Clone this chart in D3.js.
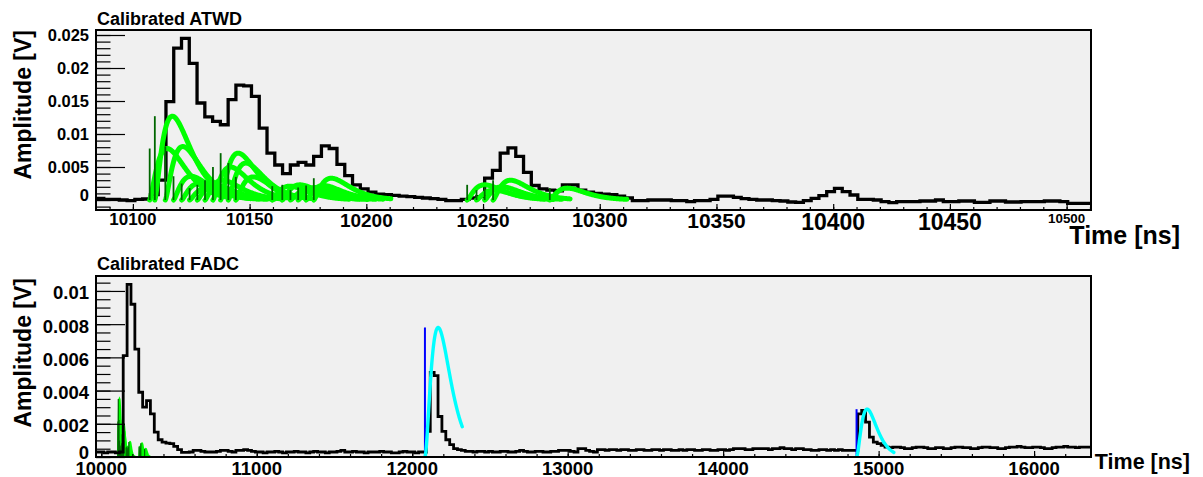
<!DOCTYPE html>
<html>
<head>
<meta charset="utf-8">
<script src="https://cdn.jsdelivr.net/npm/d3@7"></script>
<style>
body { margin: 0; background: #fff; }
svg { display: block; font-family: "Liberation Sans", Arial, Helvetica, sans-serif; font-weight: bold; }
</style>
</head>
<body>
<svg width="1203" height="477"></svg>
<script>
//------------------------------------------------------------------------------
// ATWD waveform: 128 samples of 3.33 ns
var atwdStart = 10084.2, atwdBin = 3.33;
var atwdValues = [
    0.00025, 0.0001, 0.0001, 0.0, -0.0001, 0.0001, 0.00015, 0.0008, 0.003, 0.0149,
    0.0230, 0.0245, 0.0207, 0.0147, 0.0126, 0.0119, 0.0114, 0.0152, 0.0174, 0.0173,
    0.0157, 0.0109, 0.0071, 0.0053, 0.0040, 0.0053, 0.0057, 0.0053, 0.0066, 0.0082,
    0.0078, 0.0054, 0.0037, 0.0023, 0.0017, 0.0012, 0.0009, 0.0008, 0.0007, 0.0006,
    0.0005, 0.0004, 0.0003, 0.0002, 0.0001, -0.0001, -0.0001, 0.0001, 0.0003, 0.0005,
    0.0033, 0.0045, 0.0071, 0.0079, 0.0066, 0.0042, 0.0022, 0.0017, 0.0015, 0.0014,
    0.0023, 0.0023, 0.0015, 0.0012, 0.0010, 0.0009, 0.0008, 0.0006, 0.0003, -0.0001,
    -0.0001, 0.0, 0.0, 0.0, -0.0001, -0.0001, -0.00025, -0.0001, -0.0001, 0.0001,
    0.0006, 0.0006, 0.0004, 0.0002, 0.0001, 0.0, 0.0, -0.0001, -0.00015, -0.0003,
    -0.00035, -0.0001, 0.00025, 0.00066, 0.00126, 0.00177, 0.00126, 0.00076, 0.0001, 0.0001,
    0.0, -0.00025, -0.0004, -0.00025, -0.00025, -0.00025, -0.00015, -0.00015, 0.0, -0.00025,
    -0.00025, -0.00015, -0.00015, -0.00035, -0.00035, -0.00015, -0.00015, -0.0003, -0.0003, -0.00025,
    -0.00025, -0.00025, -0.00015, -0.00015, -0.00025, -0.0005, -0.0005, -0.0005
];

// pulses unfolded from the ATWD (start time in ns, amplitude in V)
var atwdPulseTimes = [
    10107.2, 10109.4, 10113.9, 10117.4, 10120.9, 10124.3, 10127.6, 10130.9, 10134.3, 10137.6,
    10140.9, 10144.1, 10159.7, 10164.0, 10167.5, 10170.8, 10174.2, 10177.5,
    10243.2, 10247.2, 10250.7, 10254.3, 10278.6
];
var atwdPulseAmps = [
    0.0078, 0.0127, 0.0081, 0.0036, 0.0025, 0.0018, 0.0023, 0.0030, 0.0050, 0.0071,
    0.0056, 0.0035, 0.0021, 0.0023, 0.0015, 0.0019, 0.0022, 0.0033,
    0.0023, 0.0015, 0.0020, 0.0030, 0.0018
];

// FADC waveform: 256 samples of 25 ns
var fadcStart = 9966, fadcBin = 25;
var fadcValues = [
    0.0003, 0.0003, 0.00025, 0.0003, 0.0003, 0.00025, 0.0003,
    0.0061, 0.0104, 0.0092, 0.0065, 0.0039, 0.0030, 0.0034, 0.0026, 0.0015, 0.00104,
    0.0009, 0.00084, 0.0008, 0.00064, 0.00044, 0.00028,
    0.00028, 0.0003, 0.0004, 0.0004, 0.00034, 0.0003, 0.0003, 0.0003, 0.00034, 0.0004,
    0.0004, 0.00034, 0.0003, 0.0004, 0.0004, 0.00044, 0.0004, 0.00034, 0.0003, 0.0003,
    0.00025, 0.0003, 0.0003, 0.00034, 0.0003, 0.00025, 0.0003, 0.0003, 0.00034, 0.0003,
    0.0003, 0.00025, 0.0003, 0.00034, 0.0003, 0.0003, 0.00025, 0.0003, 0.0003, 0.00034,
    0.0004, 0.0003, 0.0003, 0.00034, 0.0003, 0.0003, 0.00025, 0.0003, 0.0003, 0.0003,
    0.00034, 0.0003, 0.0003, 0.00025, 0.00025, 0.0003, 0.00034, 0.0003, 0.0003, 0.00025, 0.0003, 0.0003,
    0.00154, 0.0051, 0.0049, 0.00244, 0.00154, 0.00104, 0.00074, 0.0005, 0.00044,
    0.0004, 0.00034, 0.00034, 0.0003, 0.00034, 0.00034, 0.0003, 0.00034, 0.0003, 0.0003,
    0.00034, 0.00034, 0.0003, 0.0003, 0.00034, 0.0004, 0.00034, 0.0003, 0.0003, 0.00034,
    0.00034, 0.0003, 0.0003, 0.00034, 0.00034, 0.0004, 0.0004, 0.0004, 0.00034, 0.0003,
    0.0005, 0.0005, 0.0004, 0.00034, 0.0003, 0.00044, 0.00044, 0.0004, 0.00044, 0.00044,
    0.0004, 0.00044, 0.00044, 0.0004, 0.0004, 0.00044, 0.00044, 0.0004, 0.0004, 0.00044,
    0.00044, 0.0004, 0.00044, 0.00044, 0.0004, 0.0004, 0.00044, 0.0004, 0.00044, 0.00044,
    0.0004, 0.0004, 0.00044, 0.00044, 0.0004, 0.0004, 0.00044, 0.00044, 0.0004, 0.00044,
    0.0005, 0.0005, 0.0005, 0.00044, 0.00044, 0.0005, 0.0005, 0.0005, 0.0005, 0.00044,
    0.0005, 0.0005, 0.00056, 0.0005, 0.0005, 0.00044, 0.0005, 0.0005, 0.00044, 0.00044,
    0.0004, 0.0004, 0.00044, 0.00044, 0.0004, 0.00044, 0.0004, 0.00044, 0.0004, 0.0004, 0.0004, 0.0004,
    0.0026, 0.0028, 0.0021, 0.0012, 0.0009, 0.0008, 0.0007,
    0.0006, 0.00056, 0.0006, 0.0006, 0.00056, 0.0005, 0.0005, 0.00056, 0.0006, 0.0006,
    0.00056, 0.0005, 0.0005, 0.00056, 0.00056, 0.0005, 0.0005, 0.00056, 0.0006, 0.0006,
    0.00056, 0.00056, 0.0005, 0.0005, 0.00056, 0.0006, 0.0006, 0.00056, 0.00056, 0.0005,
    0.0005, 0.00056, 0.0006, 0.0006, 0.00064, 0.0006, 0.00056, 0.00056, 0.0006, 0.0006,
    0.00056, 0.0005, 0.0005, 0.00056, 0.0006, 0.0006, 0.00064, 0.0006, 0.0006, 0.00056, 0.0006, 0.0006, 0.0006
];

// pulses unfolded from the FADC
var fadcPulseTimes = [12081.8, 14858];
var fadcPulseAmps = [0.0078, 0.00288];
var fadcPulseRise = [85, 68];

// ATWD pulses are also shown on the FADC panel, scaled down
var atwdOnFadcScale = 0.275;

// axis ticks and labels
var atwdXTicks = [10100, 10150, 10200, 10250, 10300, 10350, 10400, 10450, 10500];
var atwdXLabels = ["10100", "10150", "10200", "10250", "10300", "10350", "10400", "10450", "10500"];
var atwdYTicks = [0, 0.005, 0.01, 0.015, 0.02, 0.025];
var atwdYLabels = ["0", "0.005", "0.01", "0.015", "0.02", "0.025"];
var fadcXTicks = [10000, 11000, 12000, 13000, 14000, 15000, 16000];
var fadcXLabels = ["10000", "11000", "12000", "13000", "14000", "15000", "16000"];
var fadcYTicks = [0, 0.002, 0.004, 0.006, 0.008, 0.01];
var fadcYLabels = ["0", "0.002", "0.004", "0.006", "0.008", "0.01"];
//------------------------------------------------------------------------------

// the ATWD time labels come out in uneven sizes in the original
var atwdXLabelSize = [17, 17, 19, 19, 20, 21, 23, 23, 13.4];

var green = '#00ff00', darkGreen = '#006600', cyan = '#00ffff', blue = '#0000ff';
var frameFill = '#f0f0f0';

var svg = d3.select('svg');

var topBox = {left: 96, right: 1091, top: 30, bottom: 210};
var botBox = {left: 96, right: 1091, top: 276, bottom: 457};

var x1 = d3.scaleLinear()
    .domain([atwdStart, atwdStart + atwdValues.length * atwdBin])
    .range([topBox.left, topBox.right]);
var y1 = d3.scaleLinear()
    .domain([-0.001515, 0.025758])
    .range([topBox.bottom, topBox.top]);

var x2 = d3.scaleLinear()
    .domain([fadcStart, fadcStart + fadcValues.length * fadcBin])
    .range([botBox.left, botBox.right]);
var y2 = d3.scaleLinear()
    .domain([0, 0.0109])
    .range([botBox.bottom, botBox.top]);

//---------------------------------------------------------------------
// helpers

function pulseShape(dt, rise, power) {
    if (dt <= 0) return 0;
    var u = dt / rise;
    return Math.pow(u * Math.exp(1 - u), power);
}

function pulseCurve(t0, amp, rise, power, length, step) {
    var pts = [];
    for (var dt = 0; dt <= length + 1e-9; dt += step) {
        pts.push([t0 + dt, amp * pulseShape(dt, rise, power)]);
    }
    return pts;
}

function histPoints(start, width, values) {
    var pts = values.map(function(v, i) { return [start + i * width, v]; });
    pts.push([start + values.length * width, values[values.length - 1]]);
    return pts;
}

function panel(box, id) {
    svg.append('rect')
        .attr('x', box.left).attr('y', box.top)
        .attr('width', box.right - box.left).attr('height', box.bottom - box.top)
        .attr('fill', frameFill);
    svg.append('clipPath').attr('id', id)
        .append('rect')
        .attr('x', box.left).attr('y', box.top)
        .attr('width', box.right - box.left).attr('height', box.bottom - box.top);
    return svg.append('g').attr('clip-path', 'url(#' + id + ')');
}

function frame(box) {
    svg.append('rect')
        .attr('x', box.left).attr('y', box.top)
        .attr('width', box.right - box.left).attr('height', box.bottom - box.top)
        .attr('fill', 'none').attr('stroke', 'black').attr('stroke-width', 2);
}

function ticksX(box, x, values, len) {
    svg.append('g')
        .attr('transform', 'translate(0,' + box.bottom + ')')
        .call(d3.axisBottom(x).tickValues(values).tickSize(-len).tickFormat(''))
        .call(function(a) { a.select('.domain').remove(); })
        .selectAll('line').attr('stroke', 'black').attr('stroke-width', 1.2);
}

function ticksY(box, y, values, len) {
    svg.append('g')
        .attr('transform', 'translate(' + box.left + ',0)')
        .call(d3.axisLeft(y).tickValues(values).tickSize(-len).tickFormat(''))
        .call(function(a) { a.select('.domain').remove(); })
        .selectAll('line').attr('stroke', 'black').attr('stroke-width', 1.2);
}

function labelsY(y, ticks, labels, size, dyPx) {
    svg.append('g').selectAll('text')
        .data(ticks)
        .enter()
        .append('text')
        .attr('x', 89)
        .attr('y', function(d) { return y(d) + (d === 0 ? -4.5 : dyPx); })
        .attr('dy', '0.35em')
        .attr('text-anchor', 'end')
        .style('font-size', size + 'px')
        .text(function(d, i) { return labels[i]; });
}

var histLine = d3.line().curve(d3.curveStepAfter);

//---------------------------------------------------------------------
// ATWD panel

var g1 = panel(topBox, 'clipTop');

g1.append('path')
    .attr('d', histLine(histPoints(atwdStart, atwdBin, atwdValues).map(function(p) {
        return [x1(p[0]), y1(p[1])];
    })))
    .attr('fill', 'none').attr('stroke', 'black').attr('stroke-width', 3.3)
    .attr('stroke-linejoin', 'miter');

var curveLine = d3.line();

g1.selectAll('.atwd-pulse')
    .data(atwdPulseTimes)
    .enter()
    .append('path')
    .classed('atwd-pulse', true)
    .attr('d', function(t, i) {
        return curveLine(pulseCurve(t, atwdPulseAmps[i], 7.5, 1.5, 33, 0.25).map(function(p) {
            return [x1(p[0]), y1(p[1])];
        }));
    })
    .attr('fill', 'none').attr('stroke', green).attr('stroke-width', 5)
    .attr('stroke-linecap', 'round').attr('stroke-linejoin', 'round');

g1.selectAll('.atwd-spike')
    .data(atwdPulseTimes)
    .enter()
    .append('line')
    .classed('atwd-spike', true)
    .attr('x1', function(t) { return x1(t); })
    .attr('x2', function(t) { return x1(t); })
    .attr('y1', y1(0))
    .attr('y2', function(t, i) { return y1(atwdPulseAmps[i]); })
    .attr('stroke', darkGreen).attr('stroke-width', 1.8);

frame(topBox);
ticksX(topBox, x1, d3.range(10090, 10511, 10), 3);
ticksX(topBox, x1, atwdXTicks, 6);
ticksY(topBox, y1, d3.range(-1, 26, 1).map(function(d) { return d / 1000; }), 14.5);
ticksY(topBox, y1, atwdYTicks, 29);

svg.append('g').selectAll('text')
    .data(atwdXTicks)
    .enter()
    .append('text')
    .attr('x', function(d) { return x1(d); })
    .attr('y', function(d, i) { return 213 + 0.72 * atwdXLabelSize[i]; })
    .attr('text-anchor', 'middle')
    .style('font-size', function(d, i) { return atwdXLabelSize[i] + 'px'; })
    .text(function(d, i) { return atwdXLabels[i]; });

labelsY(y1, atwdYTicks, atwdYLabels, 16.5, 0);

svg.append('text').attr('x', 97).attr('y', 25)
    .style('font-size', '18px').text('Calibrated ATWD');
svg.append('text').attr('x', 1180).attr('y', 243.5)
    .attr('text-anchor', 'end').style('font-size', '25px').text('Time [ns]');
svg.append('text')
    .attr('transform', 'translate(31,30) rotate(-90)')
    .attr('text-anchor', 'end').style('font-size', '23px').text('Amplitude [V]');

//---------------------------------------------------------------------
// FADC panel

var g2 = panel(botBox, 'clipBot');

var atwdEnd = atwdStart + atwdValues.length * atwdBin;

g2.selectAll('.fadc-atwd-pulse')
    .data(atwdPulseTimes)
    .enter()
    .append('path')
    .classed('fadc-atwd-pulse', true)
    .attr('d', function(t, i) {
        var pts = pulseCurve(t, atwdPulseAmps[i] * atwdOnFadcScale, 7.5, 1.5, atwdEnd - t, 0.5);
        pts.push([pts[pts.length - 1][0], 0]);
        return curveLine(pts.map(function(p) { return [x2(p[0]), y2(p[1])]; })) + 'Z';
    })
    .attr('fill', green).attr('stroke', green).attr('stroke-width', 2);

g2.selectAll('.fadc-atwd-spike')
    .data(atwdPulseTimes)
    .enter()
    .append('line')
    .classed('fadc-atwd-spike', true)
    .attr('x1', function(t) { return x2(t); })
    .attr('x2', function(t) { return x2(t); })
    .attr('y1', y2(0))
    .attr('y2', function(t, i) { return y2(atwdPulseAmps[i] * atwdOnFadcScale); })
    .attr('stroke', darkGreen).attr('stroke-width', 1.2);

g2.append('path')
    .attr('d', histLine(histPoints(fadcStart, fadcBin, fadcValues).map(function(p) {
        return [x2(p[0]), y2(p[1])];
    })))
    .attr('fill', 'none').attr('stroke', 'black').attr('stroke-width', 2.8)
    .attr('stroke-linejoin', 'miter');

g2.selectAll('.fadc-spike')
    .data(fadcPulseTimes)
    .enter()
    .append('line')
    .classed('fadc-spike', true)
    .attr('x1', function(t) { return x2(t); })
    .attr('x2', function(t) { return x2(t); })
    .attr('y1', y2(0))
    .attr('y2', function(t, i) { return y2(fadcPulseAmps[i]); })
    .attr('stroke', blue).attr('stroke-width', 2);

g2.selectAll('.fadc-pulse')
    .data(fadcPulseTimes)
    .enter()
    .append('path')
    .classed('fadc-pulse', true)
    .attr('d', function(t, i) {
        return curveLine(pulseCurve(t, fadcPulseAmps[i], fadcPulseRise[i], 1.85, 240, 2).map(function(p) {
            return [x2(p[0]), y2(p[1])];
        }));
    })
    .attr('fill', 'none').attr('stroke', cyan).attr('stroke-width', 3.4)
    .attr('stroke-linecap', 'round');

frame(botBox);
ticksX(botBox, x2, d3.range(10000, 16366, 200), 3);
ticksX(botBox, x2, fadcXTicks, 6);
ticksY(botBox, y2, d3.range(0, 22, 1).map(function(d) { return d / 2000; }), 14.5);
ticksY(botBox, y2, fadcYTicks, 29);

svg.append('g').selectAll('text')
    .data(fadcXTicks)
    .enter()
    .append('text')
    .attr('x', function(d) { return x2(d); })
    .attr('y', 474.5)
    .attr('text-anchor', 'middle')
    .style('font-size', '18.5px')
    .text(function(d, i) { return fadcXLabels[i]; });

labelsY(y2, fadcYTicks, fadcYLabels, 18.5, 2);

svg.append('text').attr('x', 97).attr('y', 270)
    .style('font-size', '18px').text('Calibrated FADC');
svg.append('text').attr('x', 1190).attr('y', 469)
    .attr('text-anchor', 'end').style('font-size', '21.5px').text('Time [ns]');
svg.append('text')
    .attr('transform', 'translate(31,278) rotate(-90)')
    .attr('text-anchor', 'end').style('font-size', '23px').text('Amplitude [V]');
</script>
</body>
</html>
